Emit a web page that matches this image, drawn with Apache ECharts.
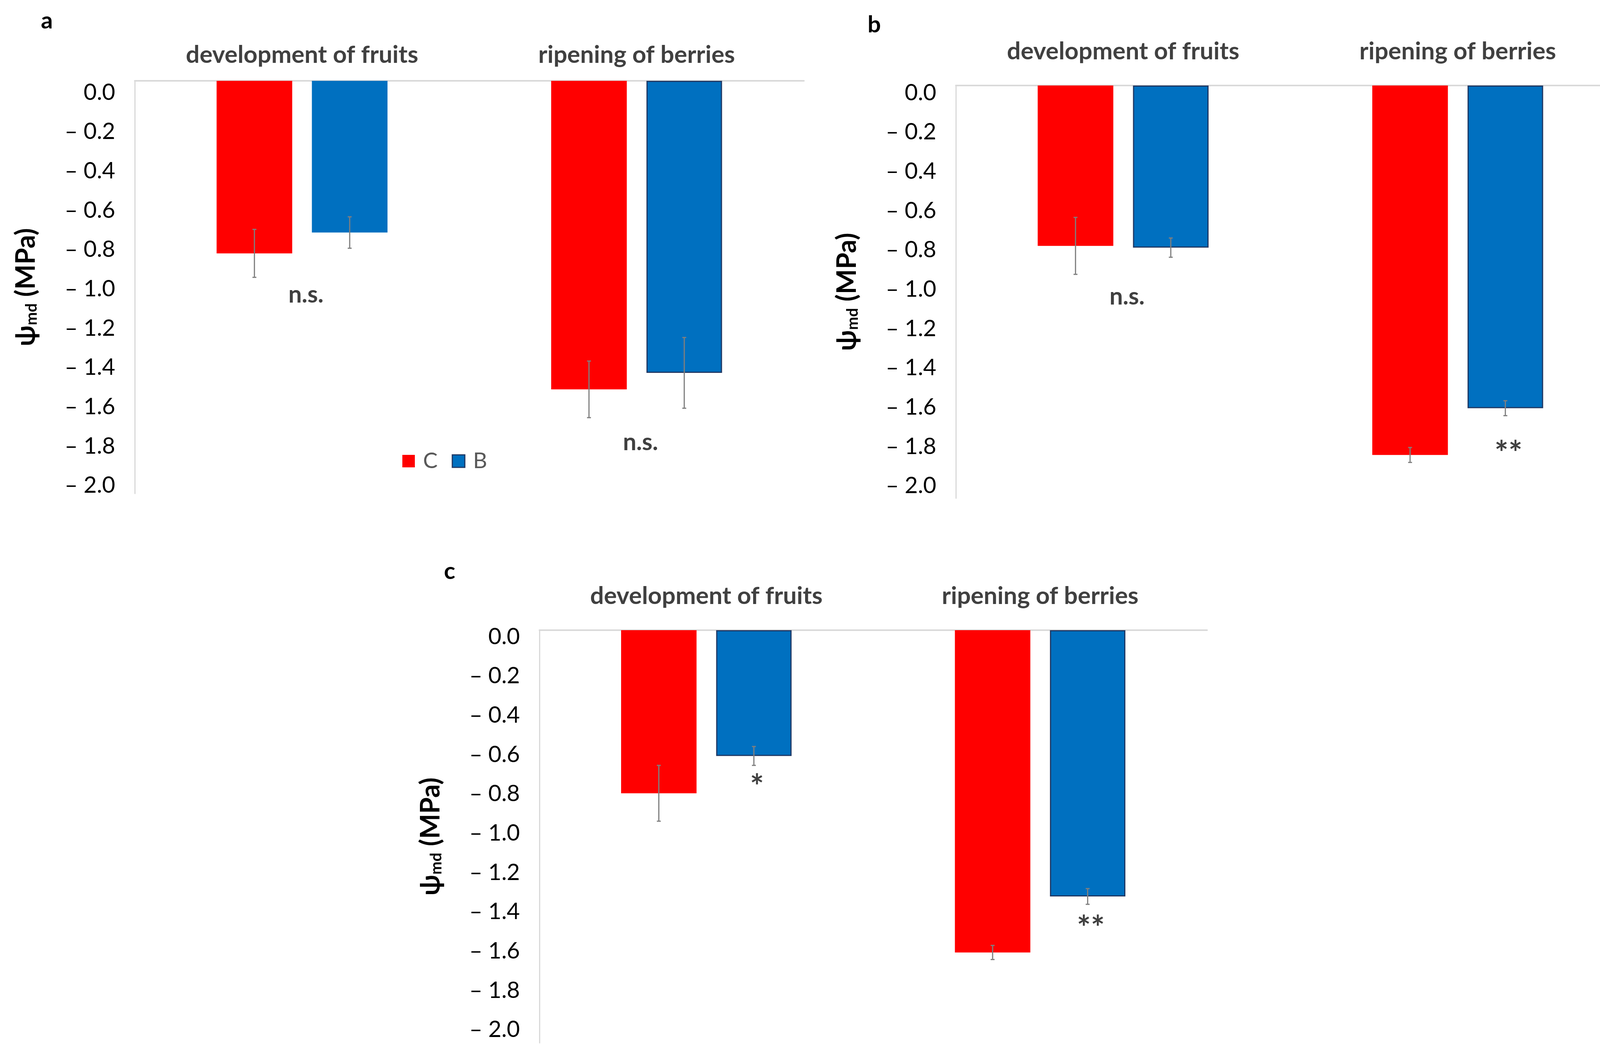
<!DOCTYPE html>
<html><head><meta charset="utf-8">
<script src="https://cdn.jsdelivr.net/npm/echarts@6/dist/echarts.min.js"></script>
<style>html,body{margin:0;padding:0;background:#fff}#c{width:4198px;height:2720px}</style>
</head><body><div id="c"></div>
<script>
// ---------- data ----------
const categories = ['development of fruits', 'ripening of berries'];
const seriesNames = ['C', 'B'];
const yTickLabels = ['0.0', '– 0.2', '– 0.4', '– 0.6', '– 0.8', '– 1.0', '– 1.2', '– 1.4', '– 1.6', '– 1.8', '– 2.0'];
const panelLetters = ['a', 'b', 'c'];

// panel a
const aC = [-0.878, -1.570];
const aB = [-0.772, -1.486];
const aCerr = [0.122, 0.144];
const aBerr = [0.080, 0.180];
const annA = [[0, -1.09, 'n.s.', 'pair'], [1, -1.84, 'n.s.', 'pair']];

// panel b
const bC = [-0.816, -1.880];
const bB = [-0.825, -1.642];
const bCerr = [0.145, 0.038];
const bBerr = [0.049, 0.038];
const annB = [[0, -1.075, 'n.s.', 'pair'], [1, -1.875, '**', 'B']];

// panel c
const cC = [-0.830, -1.640];
const cB = [-0.640, -1.355];
const cCerr = [0.142, 0.036];
const cBerr = [0.048, 0.040];
const annC = [[0, -0.80, '*', 'B'], [1, -1.52, '**', 'B']];

// ---------- layout / style ----------
const FONT = 'Lato, "Noto Sans", sans-serif';
const RED = '#ff0000', BLUE = '#0070c0', BLUE_BORDER = '#1f3864';
const BAR_W = 0.226, BAR_GAP = 0.26;
const OFFSET = BAR_W / 2 + BAR_W * BAR_GAP / 2;

const panels = [
  {grid: {left: 345, top: 207, width: 1713, height: 1057}, C: aC, B: aB, Ce: aCerr, Be: aBerr, ann: annA, labOff: 30, catMargin: 35, blueBorder: [false, true], letter: [120, 54]},
  {grid: {left: 2447, top: 219, width: 1713, height: 1057}, C: bC, B: bB, Ce: bCerr, Be: bBerr, ann: annB, labOff: 19, catMargin: 56, blueBorder: [true, true], letter: [2238, 64]},
  {grid: {left: 1381, top: 1614, width: 1709, height: 1057}, C: cC, B: cB, Ce: cCerr, Be: cBerr, ann: annC, labOff: 17, catMargin: 56, blueBorder: [true, true], letter: [1151, 1464]}
];

const grids = [], xAxes = [], yAxes = [], series = [], graphics = [];

function errRender(side) {
  return function (params, api) {
    const cat = api.value(0), v = api.value(1), e = api.value(2);
    const band = api.size([1, 0])[0];
    const c = api.coord([cat, v]);
    const x = c[0] + side * band * OFFSET;
    const yTop = api.coord([cat, v + e])[1];
    const yBot = api.coord([cat, v - e])[1];
    const cap = 5;
    const st = {stroke: '#7f7f7f', lineWidth: 3};
    return {type: 'group', children: [
      {type: 'line', shape: {x1: x, y1: yTop, x2: x, y2: yBot}, style: st},
      {type: 'line', shape: {x1: x - cap, y1: yTop, x2: x + cap, y2: yTop}, style: st},
      {type: 'line', shape: {x1: x - cap, y1: yBot, x2: x + cap, y2: yBot}, style: st}
    ]};
  };
}

panels.forEach((p, i) => {
  grids.push(p.grid);
  xAxes.push({
    type: 'category', gridIndex: i, data: categories, position: 'top',
    axisLine: {show: true, lineStyle: {color: '#d9d9d9', width: 4}},
    axisTick: {show: false},
    axisLabel: {color: '#404040', fontWeight: 'bold', fontSize: 62, fontFamily: FONT, margin: p.catMargin, interval: 0}
  });
  yAxes.push({
    type: 'value', gridIndex: i, min: -2.1, max: 0, interval: 0.1,
    axisLine: {show: true, lineStyle: {color: '#d9d9d9', width: 3}},
    axisTick: {show: false}, splitLine: {show: false},
    axisLabel: {
      color: '#000', fontSize: 58, fontFamily: FONT, margin: 50,
      verticalAlign: 'top', lineHeight: p.labOff * 2,
      formatter: v => { const k = Math.round(-v * 10); return k % 2 ? '' : yTickLabels[k / 2]; }
    },
    name: '{m|ψ}{s|md}{m| (MPa)}', nameLocation: 'middle', nameRotate: 90, nameGap: 244,
    nameTextStyle: {rich: {
      m: {fontSize: 68, fontWeight: 'bold', fontFamily: FONT, color: '#000'},
      s: {fontSize: 40, fontWeight: 'bold', fontFamily: FONT, color: '#000', verticalAlign: 'bottom', padding: [26, 0, 0, 0]}
    }}
  });
  series.push({
    name: seriesNames[0], type: 'bar', xAxisIndex: i, yAxisIndex: i, data: p.C,
    barWidth: (BAR_W * 100) + '%', barGap: (BAR_GAP * 100) + '%',
    itemStyle: {color: RED}
  });
  series.push({
    name: seriesNames[1], type: 'bar', xAxisIndex: i, yAxisIndex: i,
    data: p.B.map((v, j) => p.blueBorder[j] ? {value: v, itemStyle: {borderColor: BLUE_BORDER, borderWidth: 3}} : v),
    barWidth: (BAR_W * 100) + '%', barGap: (BAR_GAP * 100) + '%',
    itemStyle: {color: BLUE}
  });
  series.push({
    type: 'custom', xAxisIndex: i, yAxisIndex: i, z: 5,
    data: p.C.map((v, j) => [j, v, p.Ce[j]]), renderItem: errRender(-1)
  });
  series.push({
    type: 'custom', xAxisIndex: i, yAxisIndex: i, z: 5,
    data: p.B.map((v, j) => [j, v, p.Be[j]]), renderItem: errRender(1)
  });
  const ann = p.ann;
  series.push({
    type: 'custom', xAxisIndex: i, yAxisIndex: i, z: 6,
    data: ann.map(a => [a[0], a[1]]),
    renderItem: function (params, api) {
      const a = ann[params.dataIndex];
      const band = api.size([1, 0])[0];
      const c = api.coord([api.value(0), api.value(1)]);
      const star = a[2].indexOf('*') >= 0;
      const x = c[0] + (a[3] === 'B' ? band * OFFSET + 8 : 10);
      return {type: 'text', x: x, y: c[1], style: {
        text: a[2], fill: '#404040', font: 'bold ' + (star ? 84 : 61) + 'px ' + FONT, align: 'center', verticalAlign: 'middle'
      }};
    }
  });
  graphics.push({type: 'text', x: p.letter[0], y: p.letter[1], style: {
    text: panelLetters[i], fill: '#000', font: 'bold 60px ' + FONT, align: 'center', verticalAlign: 'middle'
  }});
});

const chart = echarts.init(document.getElementById('c'), null, {renderer: 'canvas'});
chart.setOption({
  animation: false,
  backgroundColor: '#fff',
  grid: grids, xAxis: xAxes, yAxis: yAxes, series: series, graphic: graphics,
  legend: {
    left: 1025, top: 1148, itemWidth: 32, itemHeight: 32, itemGap: 36, icon: 'rect',
    selectedMode: false,
    textStyle: {fontSize: 56, color: '#595959', fontFamily: FONT, padding: [0, 0, 0, 16]},
    data: [{name: 'C', itemStyle: {color: RED}}, {name: 'B', itemStyle: {color: BLUE, borderColor: BLUE_BORDER, borderWidth: 3}}]
  }
});
</script></body></html>
